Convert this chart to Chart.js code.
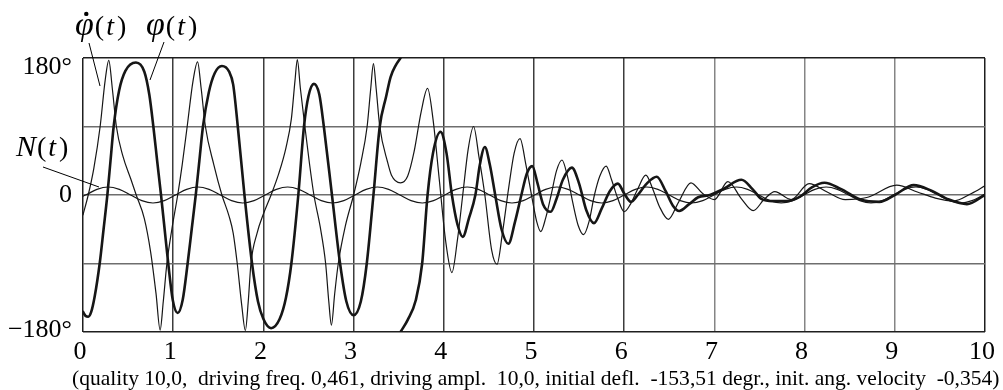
<!DOCTYPE html>
<html><head><meta charset="utf-8">
<script src="https://cdn.jsdelivr.net/npm/chart.js@4.4.1/dist/chart.umd.min.js"></script>
<style>html,body{margin:0;padding:0;background:#fff;}#c{display:block;}</style>
</head><body>
<canvas id="c" width="1003" height="390"></canvas>
<script>
// ---- data ----
// phi(t): deflection (thick line), wraps at +/-180 (null = break)
const phiT = [0.000,0.030,0.058,0.090,0.130,0.185,0.228,0.270,0.305,0.340,0.400,0.470,0.587,0.680,0.735,0.780,0.822,0.865,0.905,0.945,0.995,1.050,1.105,1.160,1.205,1.250,1.290,1.330,1.395,1.460,1.540,1.620,1.665,1.716,1.790,1.874,1.940,2.000,2.085,2.180,2.250,2.310,2.387,2.450,2.500,2.560,2.620,2.670,2.760,2.850,2.920,3.000,3.080,3.146,3.220,3.290,3.360,3.410,3.470,3.520,3.520,3.520,3.600,3.690,3.760,3.820,3.880,3.964,4.030,4.090,4.150,4.210,4.280,4.350,4.400,4.455,4.510,4.570,4.640,4.716,4.790,4.860,4.920,4.980,5.040,5.100,5.185,5.250,5.320,5.420,5.500,5.580,5.665,5.750,5.840,5.930,6.000,6.076,6.150,6.250,6.360,6.460,6.540,6.610,6.720,6.820,6.950,7.100,7.300,7.420,7.520,7.650,7.800,7.950,8.080,8.220,8.400,8.620,8.830,9.000,9.210,9.400,9.600,9.800,10.000];
const phiV = [-153.5,-159,-160,-154,-133,-90,-45,0,45,90,137,163,174,162,132,90,45,0,-45,-90,-138,-155,-138,-90,-45,0,45,90,135,160,169.5,162,145,90,0,-90,-140,-163,-175,-163,-135,-90,0,90,130,146,132,90,0,-90,-140,-158,-140,-90,0,90,129,155,171,180,null,-180,-164,-138,-90,0,55,83,55,0,-38,-55,-30,0,40,63,40,0,-45,-64,-35,0,28,38,15,-12,-22,-5,20,36,15,-20,-37,-18,5,15,2,-9,0,15,24,5,-14,-21,-12,-3,0,8,20,8,-5,-8,-8,-2,10,16,8,-6,-9,0,13,6,-6,-12,0];
// dphi/dt (thin line)
const dphiT = [0.000,0.058,0.120,0.190,0.245,0.286,0.325,0.370,0.440,0.530,0.590,0.680,0.750,0.810,0.855,0.890,0.930,0.985,1.050,1.100,1.155,1.220,1.270,1.310,1.357,1.450,1.540,1.620,1.665,1.710,1.760,1.800,1.832,1.862,1.930,2.000,2.085,2.170,2.250,2.310,2.350,2.376,2.410,2.460,2.510,2.560,2.630,2.690,2.725,2.754,2.790,2.830,2.910,3.000,3.080,3.150,3.190,3.220,3.250,3.290,3.377,3.420,3.520,3.600,3.670,3.750,3.820,3.880,3.950,4.020,4.090,4.150,4.210,4.270,4.330,4.390,4.455,4.530,4.590,4.650,4.720,4.780,4.845,4.910,4.980,5.030,5.075,5.130,5.190,5.250,5.310,5.370,5.430,5.490,5.550,5.610,5.670,5.730,5.800,5.860,5.930,6.000,6.070,6.150,6.240,6.310,6.390,6.490,6.600,6.740,6.870,7.000,7.150,7.300,7.430,7.550,7.670,7.850,8.050,8.250,8.450,8.700,9.020,9.250,9.450,9.650,9.850,10.000];
const dphiV = [-26,0,35,90,150,177,140,90,52,21,0,-31,-75,-130,-177.5,-140,-90,-45,0,40,90,150,175,140,90,40,0,-28,-50,-90,-145,-178,-140,-90,-50,-25,0,28,62,100,150,178,140,90,42,0,-42,-90,-140,-171,-130,-90,-40,0,42,90,140,172.5,140,90,43,26,16,25,56.5,110,140,100,20,-60,-102,-60,0,60,90,50,0,-72,-91,-50,10,55,74,40,-5,-35,-48,-30,0,32,46,25,-10,-40,-52,-35,0,25,38,20,-5,-22,-12,8,26,10,-15,-32,-10,16,2,-6,17.5,-5,-20.6,-6,4.4,-6,15,4,-6,-3,13,4,-4,-8,2,12];
// N(t): driving term (thin, small amplitude)
const nT = [0.000,0.030,0.154,0.279,0.403,0.528,0.652,0.776,0.901,1.025,1.149,1.274,1.398,1.523,1.647,1.771,1.896,2.020,2.144,2.269,2.393,2.518,2.642,2.766,2.891,3.015,3.139,3.264,3.388,3.513,3.637,3.761,3.886,4.010,4.134,4.259,4.383,4.508,4.632,4.756,4.881,5.005,5.129,5.254,5.378,5.503,5.627,5.751,5.876,6.000,6.124,6.249,6.373,6.498,6.622,6.746,6.871,6.995,7.119,7.244,7.368,7.493,7.617,7.741,7.866,7.990,8.114,8.239,8.363,8.488,8.612,8.736,8.861,8.985,9.109,9.234,9.358,9.483,9.607,9.731,9.856,9.980,10.000];
const nV = [-1.5,0,7.4,10.5,7.4,0,-7.4,-10.5,-7.4,0,7.4,10.5,7.4,0,-7.4,-10.5,-7.4,0,7.4,10.5,7.4,0,-7.4,-10.5,-7.4,0,7.4,10.5,7.4,0,-7.4,-10.5,-7.4,0,7.4,10.5,7.4,0,-7.4,-10.5,-7.4,0,7.4,10.5,7.4,0,-7.4,-10.5,-7.4,0,7.4,10.5,7.4,0,-7.4,-10.5,-7.4,0,7.4,10.5,7.4,0,-7.4,-10.5,-7.4,0,7.4,10.5,7.4,0,-7.4,-10.5,-7.4,0,7.4,10.5,7.4,0,-7.4,-10.5,-7.4,0,1.3];
// axes / texts
const xMin = 0, xMax = 10, xStep = 1;
const yMin = -180, yMax = 180, yStep = 90;
const yTickValues = [180, 0, -180];
const yTickLabels = ['180°', '0', '\u2212180°'];
const caption = '(quality 10,0,  driving freq. 0,461, driving ampl.  10,0, initial defl.  -153,51 degr., init. ang. velocity  -0,354)';
const seriesLabels = ['\u03C6\u0307(t)', '\u03C6(t)', 'N(t)'];

// ---- chart ----
const zip = (ts, vs) => ts.map((t, i) => ({x: t, y: vs[i]}));
const INK = '#161616';
const SERIF = '"Liberation Serif", "DejaVu Serif", serif';

function drawMath(ctx, x, y, parts) {
  let cx = x;
  for (const p of parts) {
    ctx.font = (p.it ? 'italic ' : '') + p.size + 'px ' + SERIF;
    ctx.fillText(p.s, cx, y);
    const w = ctx.measureText(p.s).width;
    if (p.dot) {
      ctx.beginPath();
      ctx.arc(cx + w * 0.6, y - p.size * 0.62, 2.2, 0, Math.PI * 2);
      ctx.fill();
    }
    cx += w + (p.gap || 0);
  }
}

const annot = {
  id: 'annot',
  afterDraw(chart) {
    const ctx = chart.ctx;
    const ys = chart.scales.y;
    ctx.save();
    ctx.fillStyle = '#000';
    ctx.strokeStyle = '#000';
    ctx.textAlign = 'right';
    ctx.textBaseline = 'alphabetic';
    ctx.font = '26px ' + SERIF;
    const shift = {'180': 16, '0': 7, '-180': 5};
    yTickValues.forEach((v, i) => {
      ctx.fillText(yTickLabels[i], 72, ys.getPixelForValue(v) + shift[String(v)]);
    });
    // caption
    ctx.textAlign = 'left';
    let fs = 20;
    ctx.font = fs + 'px ' + SERIF;
    const w = ctx.measureText(caption).width;
    fs = fs * 928 / w;
    ctx.font = fs.toFixed(2) + 'px ' + SERIF;
    ctx.fillText(caption, 72, 385);
    // series labels
    ctx.textAlign = 'left';
    drawMath(ctx, 75, 35, [{s: '\u03C6', it: true, dot: true, size: 34, gap: 1}, {s: '(', size: 28, gap: 2}, {s: 't', it: true, size: 28, gap: 3}, {s: ')', size: 28}]);
    drawMath(ctx, 146, 35, [{s: '\u03C6', it: true, size: 34, gap: 1}, {s: '(', size: 28, gap: 2}, {s: 't', it: true, size: 28, gap: 3}, {s: ')', size: 28}]);
    drawMath(ctx, 16, 156, [{s: 'N', it: true, size: 30, gap: 1}, {s: '(', size: 28, gap: 2}, {s: 't', it: true, size: 28, gap: 3}, {s: ')', size: 28}]);
    // leader lines
    ctx.lineWidth = 1;
    ctx.beginPath();
    ctx.moveTo(89, 43); ctx.lineTo(100, 86);
    ctx.moveTo(164, 42); ctx.lineTo(150, 80);
    ctx.moveTo(43, 167); ctx.lineTo(99, 187);
    ctx.stroke();
    ctx.restore();
  }
};

new Chart(document.getElementById('c'), {
  type: 'line',
  data: {
    datasets: [
      {label: seriesLabels[2], data: zip(nT, nV), borderColor: INK, borderWidth: 1.2},
      {label: seriesLabels[0], data: zip(dphiT, dphiV), borderColor: INK, borderWidth: 1.2},
      {label: seriesLabels[1], data: zip(phiT, phiV), borderColor: INK, borderWidth: 2.6, spanGaps: false}
    ]
  },
  options: {
    responsive: false,
    devicePixelRatio: 1,
    animation: false,
    layout: {padding: {top: 58, right: 11, left: 0, bottom: 0}, autoPadding: false},
    elements: {
      point: {radius: 0, hitRadius: 0, hoverRadius: 0},
      line: {cubicInterpolationMode: 'monotone', fill: false, borderCapStyle: 'round', borderJoinStyle: 'round'}
    },
    plugins: {legend: {display: false}, tooltip: {enabled: false}},
    events: [],
    scales: {
      x: {
        type: 'linear', min: xMin, max: xMax,
        afterFit(s) { s.height = 58; },
        border: {display: false},
        grid: {
          drawTicks: false, lineWidth: 1.5,
          color: c => (c.tick.value === xMin || c.tick.value === xMax) ? '#1e1e1e' : (c.tick.value >= 7 ? '#858585' : '#3c3c3c')
        },
        ticks: {stepSize: xStep, color: '#000', padding: 5, labelOffset: -3, maxRotation: 0, autoSkip: false,
          font: {family: SERIF, size: 26}}
      },
      y: {
        min: yMin, max: yMax,
        afterFit(s) { s.width = 83; },
        border: {display: false},
        grid: {
          drawTicks: false, lineWidth: 1.5,
          color: c => (c.tick.value === yMin || c.tick.value === yMax) ? '#1e1e1e' : '#6e6e6e'
        },
        ticks: {display: false, stepSize: yStep}
      }
    }
  },
  plugins: [annot]
});
</script>
</body></html>
